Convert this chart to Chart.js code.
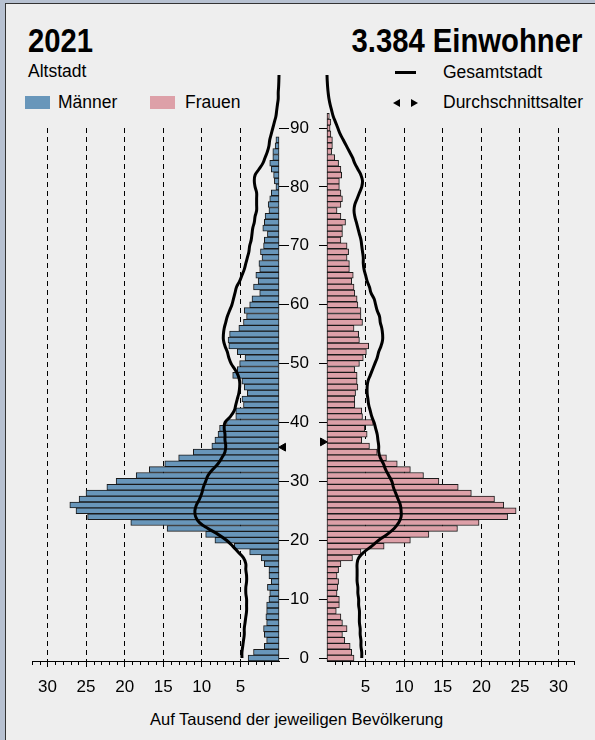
<!DOCTYPE html>
<html>
<head>
<meta charset="utf-8">
<script src="https://cdn.jsdelivr.net/npm/chart.js@4/dist/chart.umd.min.js"></script>
<style>
body{margin:0;width:595px;height:740px;overflow:hidden;background:#b7c1d1;font-family:"Liberation Sans",Arial,sans-serif;color:#000;position:relative;}
#card{position:absolute;left:5px;top:3px;width:640px;height:800px;background:#eeeeee;border:1px solid #333;}
.t{position:absolute;white-space:nowrap;line-height:1;}
.big{font-weight:bold;font-size:34px;transform:scaleX(0.86);}
.sm{font-size:17.5px;}
.sw{position:absolute;width:25px;height:13px;}
canvas{position:absolute;top:0;}
</style>
</head>
<body>
<div id="card"></div>
<div class="t big" style="left:28px;top:23px;transform-origin:left top;">2021</div>
<div class="t big" style="right:13px;top:23px;transform-origin:right top;">3.384 Einwohner</div>
<div class="t sm" style="left:28px;top:63px;">Altstadt</div>
<div class="sw" style="left:25px;top:96px;background:#6896ba;"></div>
<div class="t sm" style="left:58px;top:94px;">Männer</div>
<div class="sw" style="left:150px;top:96px;background:#dda0a8;"></div>
<div class="t sm" style="left:185px;top:94px;">Frauen</div>
<div style="position:absolute;left:395px;top:71px;width:21px;height:3px;background:#000;"></div>
<div class="t sm" style="left:443px;top:64px;">Gesamtstadt</div>
<div style="position:absolute;left:393px;top:99px;width:0;height:0;border-top:4px solid transparent;border-bottom:4px solid transparent;border-right:7px solid #000;"></div>
<div style="position:absolute;left:411px;top:99px;width:0;height:0;border-top:4px solid transparent;border-bottom:4px solid transparent;border-left:7px solid #000;"></div>
<div class="t sm" style="left:443px;top:94px;">Durchschnittsalter</div>
<div class="t" style="left:150px;top:711px;font-size:16.5px;">Auf Tausend der jeweiligen Bevölkerung</div>

<canvas id="men" width="290" height="700" style="left:0px;"></canvas>
<canvas id="women" width="310" height="700" style="left:285px;"></canvas>

<script>
'use strict';

// Alter 0..99
let ages=[0,1,2,3,4,5,6,7,8,9,10,11,12,13,14,15,16,17,18,19,20,21,22,23,24,25,26,27,28,29,
    30,31,32,33,34,35,36,37,38,39,40,41,42,43,44,45,46,47,48,49,50,51,52,53,54,55,56,57,58,59,
    60,61,62,63,64,65,66,67,68,69,70,71,72,73,74,75,76,77,78,79,80,81,82,83,84,85,86,87,88,89,
    90,91,92,93,94,95,96,97,98,99];

// Altstadt, auf Tausend
let maennerAltstadt=[4.0,3.3,1.9,1.6,1.9,2.0,1.6,1.7,1.6,1.6,1.3,1.2,1.5,1.0,1.3,1.3,1.9,2.3,3.8,5.8,
    8.3,9.5,14.5,19.2,24.8,26.3,27.1,25.9,25.0,22.3,21.1,18.5,16.8,14.8,13.0,11.1,8.7,8.3,7.9,7.7,
    6.8,5.6,5.6,4.6,4.8,4.1,4.5,4.8,6.0,5.4,5.1,4.4,5.4,6.5,6.6,6.4,5.2,4.6,4.2,4.5,
    3.8,3.5,2.5,3.3,2.7,3.0,2.5,2.6,2.2,2.4,2.0,1.9,1.5,2.1,1.9,1.8,1.3,1.4,1.2,1.0,
    0.4,0.6,0.7,1.0,1.2,0.8,0.8,0.5,0.4];
let frauenAltstadt=[3.5,3.2,3.0,2.3,2.0,2.6,2.0,1.8,1.2,1.6,1.6,1.3,1.4,1.5,1.3,1.5,1.8,3.3,4.4,7.4,
    10.8,13.2,16.9,19.7,23.4,24.5,22.9,21.7,18.7,17.0,14.5,12.5,10.8,9.1,7.7,6.5,5.5,4.5,5.2,4.9,
    6.0,4.6,4.5,3.6,3.6,3.7,4.0,3.9,3.9,3.6,4.2,4.7,5.1,5.4,4.2,4.1,3.5,4.6,4.4,4.4,
    4.0,3.9,3.6,3.5,3.2,3.4,2.9,2.9,2.6,2.8,2.6,1.8,2.0,2.0,2.4,1.8,1.3,1.8,2.0,1.8,
    1.6,1.6,1.9,1.8,1.5,1.0,0.6,0.7,0.7,0.5,0.4,0.5,0.3];

// Gesamtstadt, auf Tausend
let maennerGesamt=[4.8,4.8,4.7,4.6,4.5,4.5,4.4,4.3,4.2,4.2,4.2,4.3,4.3,4.2,4.2,4.3,4.3,4.6,5.3,6.0,
    6.8,7.9,9.2,10.3,10.8,10.9,10.7,10.3,10.0,9.8,9.5,9.2,8.6,7.9,7.4,7.0,6.9,7.0,7.0,7.1,
    7.0,6.3,5.8,5.6,5.4,5.2,5.1,5.1,5.3,5.7,6.2,6.5,6.7,7.0,7.2,7.2,7.1,6.9,6.7,6.4,
    6.1,5.9,5.7,5.5,5.1,4.8,4.5,4.3,4.1,3.9,3.8,3.6,3.5,3.4,3.2,3.1,2.9,2.9,2.9,2.9,
    3.1,3.2,3.1,2.6,2.1,1.8,1.5,1.3,1.2,1.0,0.8,0.6,0.4,0.3,0.2,0.1,0.1,0.05,0.02,0];
let frauenGesamt=[4.5,4.5,4.4,4.4,4.3,4.3,4.2,4.2,4.2,4.1,4.1,4.0,4.0,3.9,3.9,3.9,3.9,4.1,4.8,5.8,
    6.7,7.8,8.7,9.3,9.6,9.6,9.5,9.2,8.9,8.6,8.4,8.0,7.6,7.3,6.9,6.7,6.7,6.6,6.5,6.3,
    6.1,5.8,5.6,5.4,5.3,5.2,5.2,5.3,5.6,5.9,6.2,6.5,6.7,7.0,7.2,7.2,7.1,6.9,6.8,6.5,
    6.3,6.1,5.7,5.5,5.2,5.0,4.8,4.7,4.7,4.6,4.5,4.4,4.2,4.0,3.8,3.6,3.5,3.6,3.9,4.2,
    4.5,4.6,4.4,4.0,3.6,3.3,2.9,2.5,2.1,1.7,1.4,1.1,0.8,0.6,0.4,0.25,0.15,0.08,0.03,0];

// Durchschnittsalter
let alterMaenner=35.8;
let alterFrauen=36.7;

let xTicks=[5,10,15,20,25,30];
let yTicks=[0,10,20,30,40,50,60,70,80,90];

Chart.defaults.font.family='"Liberation Sans", Arial, sans-serif';
Chart.defaults.font.size=17;
Chart.defaults.color='#000';
Chart.defaults.animation=false;

function pairs(vals){
    let out=[];
    for(let i=0;i<vals.length;i++){
        out.push({x:vals[i],y:ages[i]});
    }
    return out;
}

// kleine Striche je 1 Promille
let minorTicks={
    id:'minorTicks',
    afterDraw(chart){
        let sx=chart.scales.x;
        let ctx=chart.ctx;
        ctx.save();
        ctx.strokeStyle='#000';
        ctx.lineWidth=1;
        for(let v=1;v<=32;v++){
            if(v%5===0) continue;
            let px=Math.round(sx.getPixelForValue(v))+0.5;
            ctx.beginPath();
            ctx.moveTo(px,sx.top);
            ctx.lineTo(px,sx.top+4);
            ctx.stroke();
        }
        ctx.restore();
    }
};

function renderSide(canvasId,barVals,lineVals,avg,barColor,left){
    let chartObj={
        type:'bar',
        data:{
            datasets:[{
                type:'line',
                // top-down order so points above the axis maximum are not dropped
                data:pairs(lineVals).reverse(),
                borderColor:'#000',
                borderWidth:3,
                pointRadius:0,
                tension:0.4,
                clip:false,
                order:0
            },
            {
                type:'scatter',
                data:[{x:-0.55,y:avg}],
                showLine:false,
                pointStyle:'triangle',
                pointRadius:4.5,
                pointRotation:left?-90:90,
                pointBackgroundColor:'#000',
                pointBorderColor:'#000',
                clip:false,
                order:0
            },
            {
                data:pairs(barVals),
                backgroundColor:barColor,
                borderColor:'#1a1a1a',
                borderWidth:1,
                borderSkipped:false,
                barPercentage:1,
                categoryPercentage:1,
                clip:false,
                order:1
            }]
        },
        options:{
            indexAxis:'y',
            responsive:false,
            events:[],
            layout:{padding:left?{left:32,top:128,right:0,bottom:0}:{left:0,top:128,right:21,bottom:0}},
            plugins:{legend:{display:false},tooltip:{enabled:false}},
            scales:{
                x:{
                    type:'linear',min:0,max:32,reverse:left,offset:false,
                    afterBuildTicks:s=>{s.ticks=xTicks.map(v=>({value:v}));},
                    afterFit:s=>{s.height=39;},
                    grid:{color:'#000',lineWidth:1,tickLength:6,tickColor:'#000',offset:false},
                    border:{display:true,color:'#000',width:1,dash:[5,4]},
                    ticks:{padding:10,font:{size:17},maxRotation:0}
                },
                y:{
                    type:'linear',min:-0.5,max:90,position:left?'right':'left',offset:false,
                    afterBuildTicks:s=>{s.ticks=yTicks.map(v=>({value:v}));},
                    afterFit:s=>{s.width=left?11:42;},
                    grid:{drawOnChartArea:false,tickLength:left?10:8,color:'#000',offset:false},
                    border:{display:false},
                    ticks:{display:!left,padding:10,font:{size:17}}
                }
            }
        },
        plugins:[minorTicks]
    };
    new Chart(document.getElementById(canvasId),chartObj);
}

renderSide('men',maennerAltstadt,maennerGesamt,alterMaenner,'#6896ba',true);
renderSide('women',frauenAltstadt,frauenGesamt,alterFrauen,'#dda0a8',false);
</script>
</body>
</html>
